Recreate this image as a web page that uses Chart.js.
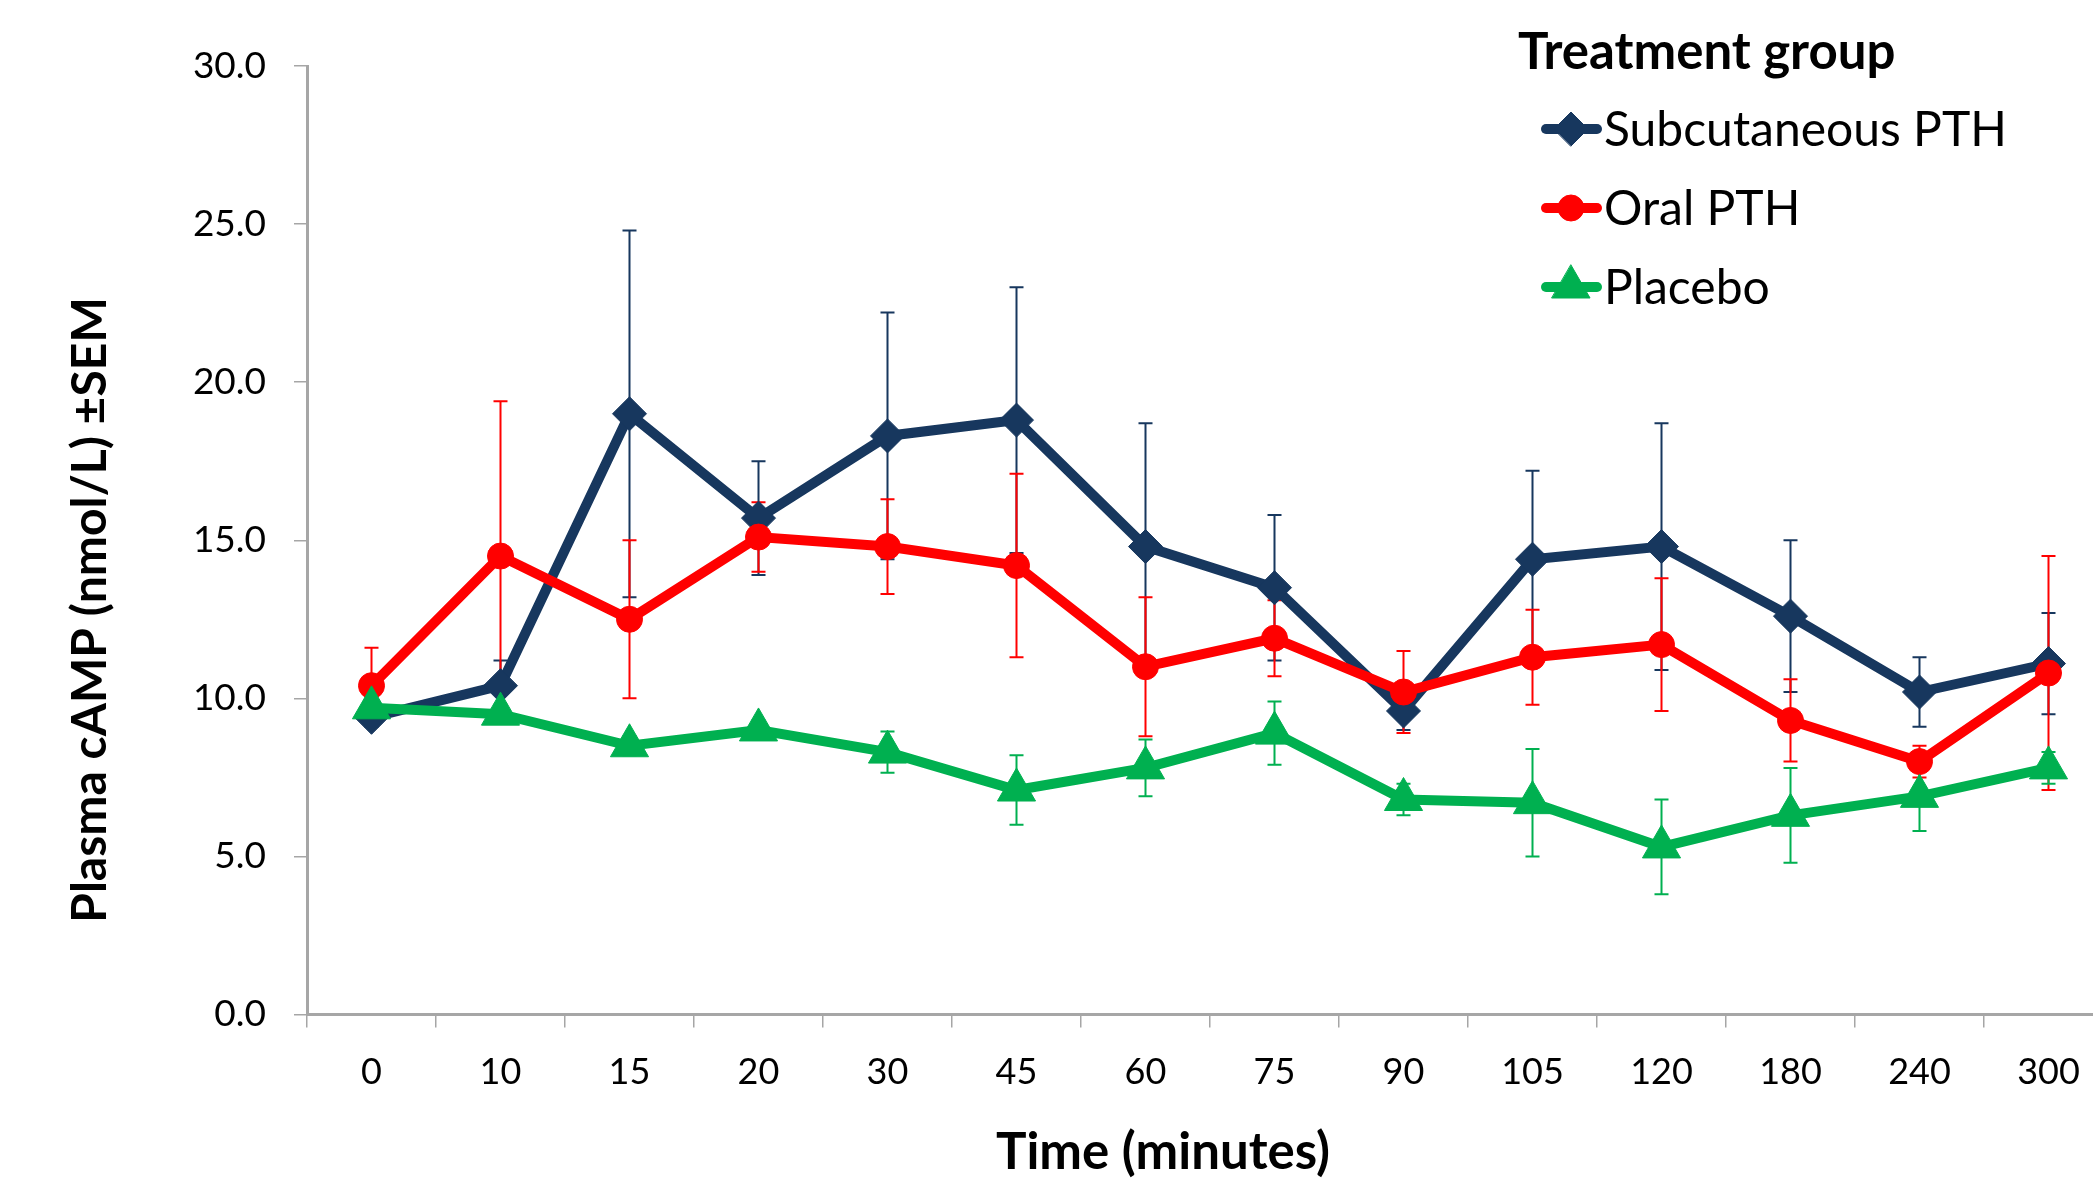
<!DOCTYPE html>
<html>
<head>
<meta charset="utf-8">
<title>Plasma cAMP</title>
<script src="https://cdn.jsdelivr.net/npm/chart.js@4.4.1/dist/chart.umd.min.js"></script>
<style>
  html, body { margin: 0; padding: 0; background: #fff; overflow: hidden; }
  #wrap { position: relative; width: 2136px; height: 1180px; }
</style>
</head>
<body>
<div id="wrap"><canvas id="camp-chart"></canvas></div>
<script>
// time points (minutes)
const timePoints = ['0', '10', '15', '20', '30', '45', '60', '75', '90', '105', '120', '180', '240', '300'];

// mean plasma cAMP (nmol/L)
const subcutaneousMean = [9.4, 10.4, 19.0, 15.7, 18.3, 18.8, 14.8, 13.5, 9.6, 14.4, 14.8, 12.6, 10.2, 11.1];
const oralMean = [10.4, 14.5, 12.5, 15.1, 14.8, 14.2, 11.0, 11.9, 10.2, 11.3, 11.7, 9.3, 8.0, 10.8];
const placeboMean = [9.7, 9.5, 8.5, 9.0, 8.3, 7.1, 7.8, 8.9, 6.8, 6.7, 5.3, 6.3, 6.9, 7.8];

// SEM for each point
const subcutaneousSem = [0.3, 0.8, 5.8, 1.8, 3.9, 4.2, 3.9, 2.3, 0.6, 2.8, 3.9, 2.4, 1.1, 1.6];
const oralSem = [1.2, 4.9, 2.5, 1.1, 1.5, 2.9, 2.2, 1.2, 1.3, 1.5, 2.1, 1.3, 0.5, 3.7];
const placeboSem = [0.3, 0.3, 0.3, 0.3, 0.65, 1.1, 0.9, 1.0, 0.5, 1.7, 1.5, 1.5, 1.1, 0.5];

const yMin = 0;
const yMax = 30;
const yStep = 5;

const legendTitle = 'Treatment group';
const xTitle = 'Time (minutes)';
const yTitle = 'Plasma cAMP (nmol/L) \u00B1SEM';

const FONT = "Lato, 'Open Sans', sans-serif";
const AXIS_GREY = '#a6a6a6';

// error bars drawn under the lines
const errorBars = {
    id: 'errorBars',
    beforeDatasetsDraw(chart) {
        const ctx = chart.ctx;
        const yScale = chart.scales.y;
        chart.data.datasets.forEach((ds, di) => {
            const meta = chart.getDatasetMeta(di);
            ctx.save();
            ctx.strokeStyle = ds.borderColor;
            ctx.lineWidth = 2;
            meta.data.forEach((pt, i) => {
                const top = yScale.getPixelForValue(ds.data[i] + ds.sem[i]);
                const bottom = yScale.getPixelForValue(ds.data[i] - ds.sem[i]);
                ctx.beginPath();
                ctx.moveTo(pt.x, top);
                ctx.lineTo(pt.x, bottom);
                ctx.moveTo(pt.x - 7, top);
                ctx.lineTo(pt.x + 7, top);
                ctx.moveTo(pt.x - 7, bottom);
                ctx.lineTo(pt.x + 7, bottom);
                ctx.stroke();
            });
            ctx.restore();
        });
    }
};

// axis titles + legend in the top right corner
const decorations = {
    id: 'decorations',
    afterDraw(chart) {
        const ctx = chart.ctx;
        ctx.save();
        ctx.fillStyle = '#000';
        ctx.textBaseline = 'middle';

        // y title
        ctx.save();
        ctx.translate(91, 610);
        ctx.rotate(-Math.PI / 2);
        ctx.textAlign = 'center';
        ctx.font = 'bold 48px ' + FONT;
        ctx.fillText(yTitle, 0, 0);
        ctx.restore();

        // x title
        ctx.textAlign = 'center';
        ctx.font = 'bold 51px ' + FONT;
        ctx.fillText(xTitle, 1163, 1153);

        // legend
        ctx.textAlign = 'left';
        ctx.font = 'bold 51px ' + FONT;
        ctx.fillText(legendTitle, 1518, 53);

        const rowY = [129, 208, 287];
        ctx.font = '48px ' + FONT;
        chart.data.datasets.forEach((ds, i) => {
            const y = rowY[i];
            ctx.strokeStyle = ds.borderColor;
            ctx.fillStyle = ds.backgroundColor;
            ctx.lineWidth = ds.borderWidth;
            ctx.lineCap = 'round';
            ctx.beginPath();
            ctx.moveTo(1546, y);
            ctx.lineTo(1597, y);
            ctx.stroke();
            ctx.lineWidth = 1;
            Chart.helpers.drawPoint(ctx, {
                pointStyle: ds.pointStyle,
                radius: ds.pointRadius,
                rotation: 0,
                borderWidth: 1
            }, 1571, y);
            ctx.fillStyle = '#000';
            ctx.fillText(ds.label, 1604, y + 2);
        });
        ctx.restore();
    }
};

const ctx = document.getElementById('camp-chart');

new Chart(ctx, {
    type: 'line',
    data: {
        labels: timePoints,
        datasets: [
            {
                label: 'Subcutaneous PTH',
                data: subcutaneousMean,
                sem: subcutaneousSem,
                borderColor: '#17375e',
                backgroundColor: '#17375e',
                borderWidth: 10,
                pointStyle: 'rectRot',
                pointRadius: 17,
                pointBorderWidth: 1,
                order: 3
            },
            {
                label: 'Oral PTH',
                data: oralMean,
                sem: oralSem,
                borderColor: '#ff0000',
                backgroundColor: '#ff0000',
                borderWidth: 10,
                pointStyle: 'circle',
                pointRadius: 13,
                pointBorderWidth: 1,
                order: 2
            },
            {
                label: 'Placebo',
                data: placeboMean,
                sem: placeboSem,
                borderColor: '#00b050',
                backgroundColor: '#00b050',
                borderWidth: 10,
                pointStyle: 'triangle',
                pointRadius: 22,
                pointBorderWidth: 1,
                order: 1
            }
        ]
    },
    options: {
        responsive: true,
        maintainAspectRatio: false,
        animation: false,
        layout: {
            padding: { top: 66, right: 9, left: 0, bottom: 0 }
        },
        plugins: {
            legend: { display: false },
            tooltip: { enabled: false }
        },
        scales: {
            x: {
                offset: true,
                grid: {
                    offset: true,
                    drawOnChartArea: false,
                    drawTicks: true,
                    tickLength: 13,
                    tickColor: AXIS_GREY,
                    lineWidth: 1.5
                },
                border: { display: true, color: AXIS_GREY, width: 3 },
                ticks: {
                    color: '#000',
                    padding: 23,
                    maxRotation: 0,
                    autoSkip: false,
                    font: { family: FONT, size: 36 }
                },
                afterFit(scale) { scale.height = 165.5; }
            },
            y: {
                min: yMin,
                max: yMax,
                grid: {
                    drawOnChartArea: false,
                    drawTicks: true,
                    tickLength: 13,
                    tickColor: AXIS_GREY,
                    lineWidth: 1.5
                },
                border: { display: true, color: AXIS_GREY, width: 3 },
                ticks: {
                    stepSize: yStep,
                    color: '#000',
                    padding: 28,
                    font: { family: FONT, size: 37 },
                    callback: (v) => Number(v).toFixed(1)
                },
                afterFit(scale) { scale.width = 307; }
            }
        }
    },
    plugins: [errorBars, decorations]
});
</script>
</body>
</html>
